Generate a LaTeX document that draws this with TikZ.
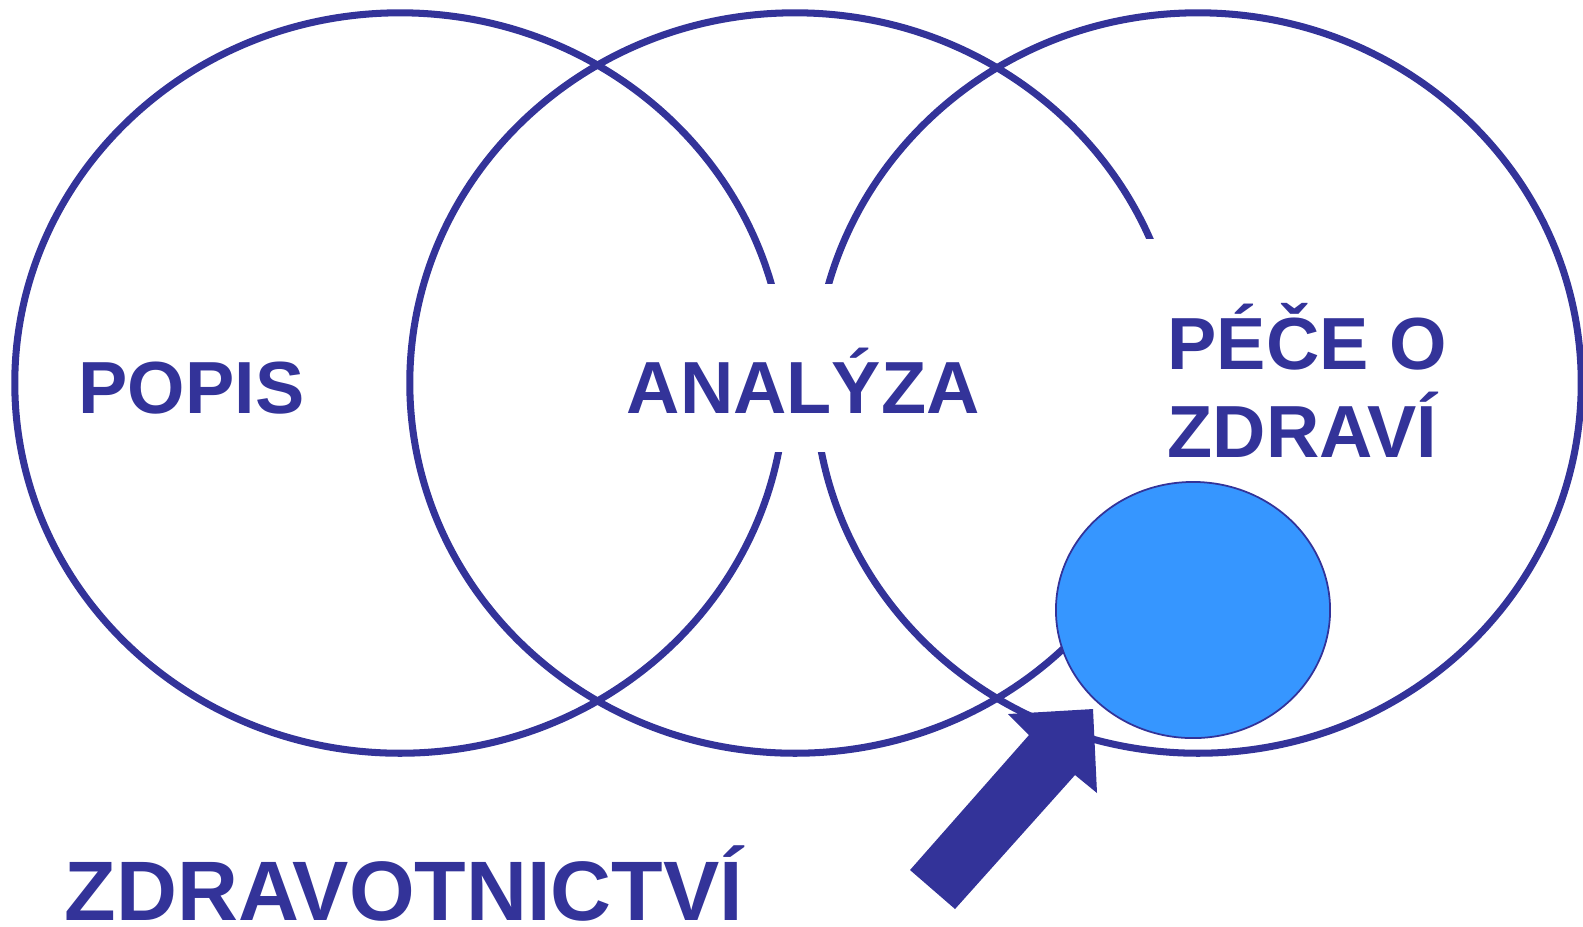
\documentclass[tikz,border=0pt]{standalone}
\usepackage{fontspec}
\setmainfont{Liberation Sans}
\usetikzlibrary{shapes.geometric}
\definecolor{azul}{RGB}{51,51,153}
\definecolor{celeste}{RGB}{54,150,255}

\begin{document}
\begin{tikzpicture}[x=0.01cm,y=-0.01cm,
  aro/.style={ellipse,draw=azul,line width=2pt,minimum width=7.7cm,minimum height=7.4cm,inner sep=0pt},
  rotulo/.style={text=azul,font=\fontsize{21}{25}\selectfont\bfseries,inner sep=0pt,anchor=base west}]
\useasboundingbox (0,0) rectangle (1583,926);
\node[aro] (popis) at (400,383) {};
\node[aro] (analyza) at (795,383) {};
\node[aro,minimum width=7.66cm] (pece) at (1198,383) {};
\fill[white] (610,284) rectangle (985,452);
\fill[white] (1135,239) rectangle (1460,490);
\node[rotulo] (tpopis) at (78,413) {POPIS};
\node[rotulo] (tanalyza) at (626,413) {ANALÝZA};
\node[rotulo] (tpece) at (1167,369) {PÉČE O};
\node[rotulo] (tzdravi) at ([yshift=-0.88cm]tpece.base west) {ZDRAVÍ};
\node[rotulo,font=\fontsize{24}{29}\selectfont\bfseries] (tzdrav) at (64,920) {ZDRAVOTNICTVÍ};
\node[ellipse,draw=azul,fill=celeste,line width=0.5pt,minimum width=2.74cm,minimum height=2.56cm,inner sep=0pt] (bod) at (1193,610) {};
\fill[azul] (910,870) -- (1029,735) -- (1008,714) -- (1093,709) -- (1097,793) -- (1075,775) -- (955,909) -- cycle;
\end{tikzpicture}
\end{document}
